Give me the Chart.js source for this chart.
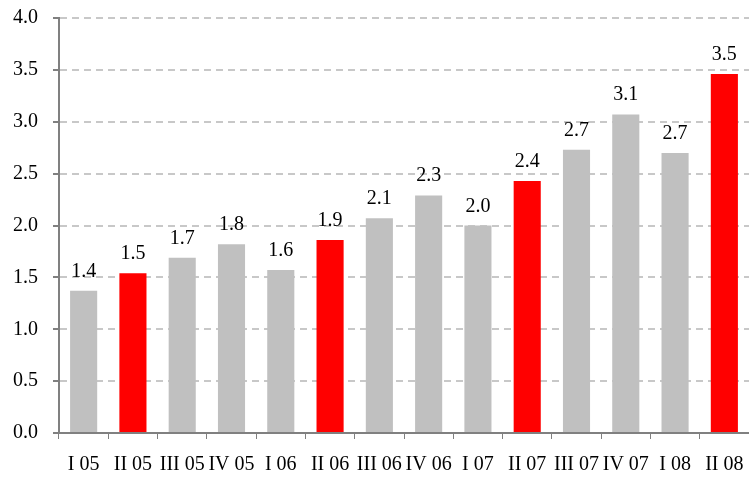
<!DOCTYPE html>
<html>
<head>
<meta charset="utf-8">
<script src="https://cdn.jsdelivr.net/npm/chart.js@4"></script>
<style>
  body { margin: 0; background: #fff; }
</style>
</head>
<body>
<canvas id="barras" width="749" height="477"></canvas>
<script>
// dados
const quarters = ["I 05", "II 05", "III 05", "IV 05", "I 06", "II 06", "III 06", "IV 06",
                  "I 07", "II 07", "III 07", "IV 07", "I 08", "II 08"];
const values = [1.37, 1.54, 1.69, 1.82, 1.57, 1.86, 2.07, 2.29, 2.0, 2.43, 2.73, 3.07, 2.7, 3.46];
const valueLabels = ["1.4", "1.5", "1.7", "1.8", "1.6", "1.9", "2.1", "2.3", "2.0", "2.4", "2.7", "3.1", "2.7", "3.5"];
const highlighted = ["II 05", "II 06", "II 07", "II 08"];
const yTicks = [0, 0.5, 1, 1.5, 2, 2.5, 3, 3.5, 4];

const serif = "'Liberation Serif', 'Times New Roman', serif";

// labels above the bars
const topLabels = {
  id: "topLabels",
  afterDatasetsDraw(chart) {
    const ctx = chart.ctx;
    const meta = chart.getDatasetMeta(0);
    ctx.save();
    ctx.font = "20px " + serif;
    ctx.fillStyle = "#000";
    ctx.textAlign = "center";
    ctx.textBaseline = "alphabetic";
    meta.data.forEach((bar, i) => {
      ctx.fillText(valueLabels[i], bar.x, bar.y - 14);
    });
    ctx.restore();
  },
};

const config = {
  type: "bar",
  data: {
    labels: quarters,
    datasets: [
      {
        data: values,
        backgroundColor: quarters.map((q) => (highlighted.includes(q) ? "#ff0000" : "#c0c0c0")),
        categoryPercentage: 1,
        barPercentage: 0.55,
      },
    ],
  },
  options: {
    responsive: false,
    animation: false,
    layout: { padding: { top: 18, right: 0, left: 0, bottom: 0 } },
    plugins: { legend: { display: false }, tooltip: { enabled: false } },
    scales: {
      x: {
        afterFit(scale) {
          scale.height = 44;
          scale.paddingLeft = 0;
          scale.paddingRight = 0;
        },
        grid: {
          drawOnChartArea: false,
          drawTicks: true,
          tickLength: 6,
          tickColor: "#808080",
        },
        border: { color: "#808080", width: 2 },
        ticks: {
          color: "#000",
          font: { family: serif, size: 20 },
          padding: 14,
          maxRotation: 0,
          autoSkip: false,
        },
      },
      y: {
        min: 0,
        max: 4,
        afterFit(scale) {
          scale.width = 59;
          scale.paddingTop = 0;
          scale.paddingBottom = 0;
        },
        afterBuildTicks(scale) { scale.ticks = yTicks.map((v) => ({ value: v })); },
        grid: {
          color: "#c8c8c8",
          lineWidth: 2,
          tickLength: 6,
          tickColor: "#808080",
        },
        border: { color: "#808080", width: 2, dash: [7, 5] },
        ticks: {
          color: "#000",
          font: { family: serif, size: 20 },
          padding: 15,
          callback: (v) => Number(v).toFixed(1),
        },
      },
    },
  },
  plugins: [topLabels],
};

new Chart(document.getElementById("barras"), config);
</script>
</body>
</html>
